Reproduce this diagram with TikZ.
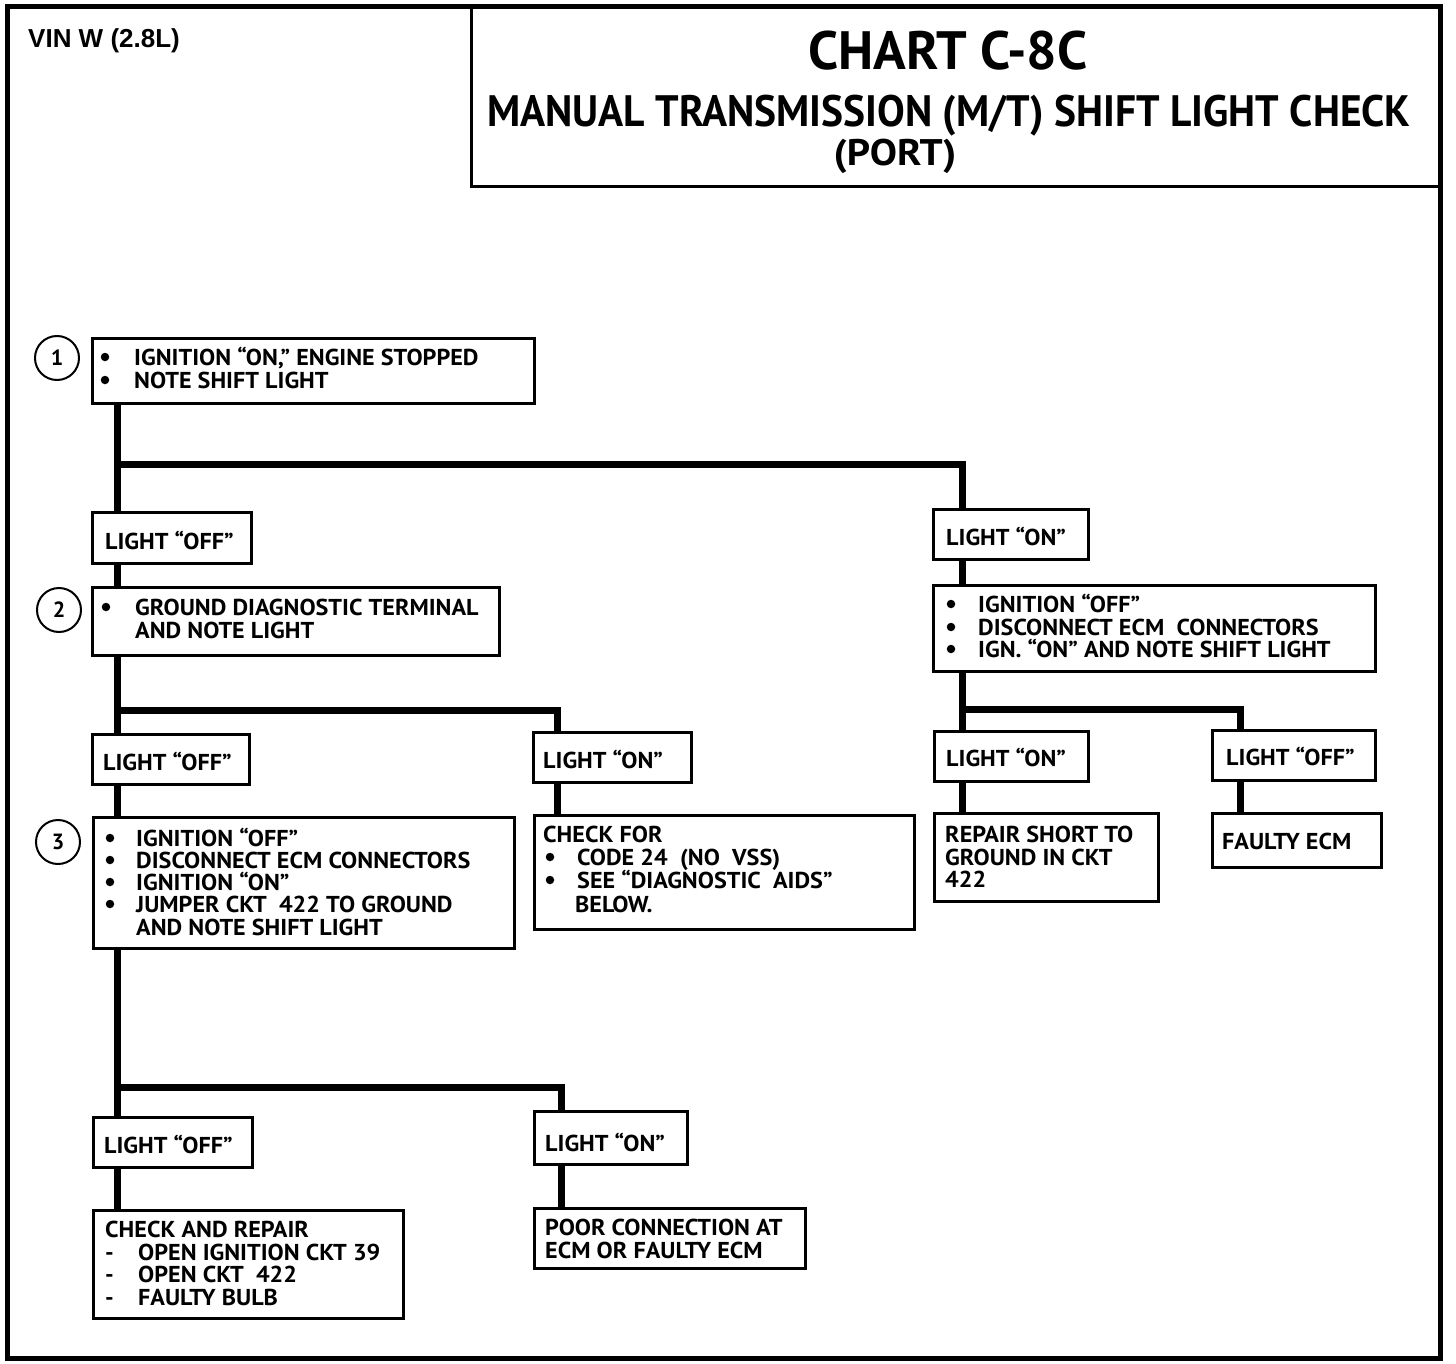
\documentclass[tikz,border=0pt]{standalone}
\usepackage{fontspec}
\setmainfont{PT Sans}
\newfontfamily\boxf{PT Sans}[FakeStretch=1.05]
\newfontfamily\arialf{Liberation Sans}
\begin{document}
\begin{tikzpicture}[x=1pt,y=-1pt,
  bx/.style={draw, line width=2.5pt, fill=white, anchor=north west, inner sep=0pt},
  conn/.style={line width=7pt},
  txt/.style={anchor=base west, inner sep=0pt, font=\boxf\fontsize{23}{24}\selectfont\bfseries},
  dot/.style={circle, fill, minimum size=8.5pt, inner sep=0pt},
  circ/.style={draw, circle, line width=2pt, minimum size=44pt, inner sep=0pt, font=\fontsize{22}{24}\selectfont\bfseries}]
\useasboundingbox (0,0) rectangle (1456,1364);
% frame and title
\draw[line width=5pt] (7,7) rectangle (1440,1358);
\node[draw, line width=3pt, anchor=north west, minimum width=970, minimum height=179, inner sep=0pt] (title) at (470,6) {};
\node[anchor=base west, inner sep=0pt, font=\arialf\fontsize{26}{28}\selectfont\bfseries] (vin) at (28,48) {VIN W (2.8L)};
\node[anchor=base, inner sep=0pt, font=\fontsize{54}{60}\selectfont\bfseries] (t1) at (948,70) {CHART C-8C};
\node[anchor=base west, inner sep=0pt, font=\fontsize{44}{50}\selectfont\bfseries] (t2) at (487,127) {\scalebox{0.942}[1]{MANUAL TRANSMISSION (M/T) SHIFT LIGHT CHECK}};
\node[anchor=base, inner sep=0pt, font=\fontsize{37}{42}\selectfont\bfseries] (t3) at (895,166) {\scalebox{1.1}[1]{(PORT)}};

% boxes
\newcommand{\mkbox}[5]{\node[bx, minimum width=#4-#2, minimum height=#5-#3] (#1) at (#2,#3) {};}
\mkbox{b1}{91}{337}{533}{402}
\mkbox{off1}{91}{511}{250}{562}
\mkbox{b2}{91}{586}{498}{654}
\mkbox{off2}{91}{733}{248}{783}
\mkbox{on2}{532}{731}{690}{781}
\mkbox{b3}{92}{816}{513}{947}
\mkbox{chk}{533}{814}{913}{928}
\mkbox{on1}{932}{508}{1087}{558}
\mkbox{r1}{932}{584}{1374}{670}
\mkbox{on3}{933}{730}{1087}{780}
\mkbox{off3}{1211}{729}{1374}{779}
\mkbox{rep}{933}{812}{1157}{900}
\mkbox{fe}{1211}{812}{1380}{866}
\mkbox{off4}{92}{1116}{251}{1166}
\mkbox{on4}{533}{1110}{686}{1163}
\mkbox{car}{92}{1209}{402}{1317}
\mkbox{poor}{533}{1207}{804}{1267}

% circles
\node[circ] (c1) at (57,358) {1};
\node[circ] (c2) at (59,610) {2};
\node[circ] (c3) at (58,842) {3};

% junction coordinates
\coordinate (j1) at (117,464);
\coordinate (j2) at (117,710);
\coordinate (j3) at (117,1087);
\coordinate (j4) at (962,709);

% connectors
\draw[conn] ([xshift=26]b1.south west) -- ([xshift=26]b1.south west |- off1.north);
\draw[conn] (j1) -| ([xshift=30]on1.north west);
\draw[conn] ([xshift=26]off1.south west) -- ([xshift=26]off1.south west |- b2.north);
\draw[conn] ([xshift=26]b2.south west) -- ([xshift=26]b2.south west |- off2.north);
\draw[conn] (j2) -| ([xshift=25]on2.north west);
\draw[conn] ([xshift=26]off2.south west) -- ([xshift=26]off2.south west |- b3.north);
\draw[conn] ([xshift=25]on2.south west) -- ([xshift=25]on2.south west |- chk.north);
\draw[conn] ([xshift=25]b3.south west) -- ([xshift=25]b3.south west |- off4.north);
\draw[conn] (j3) -| ([xshift=28]on4.north west);
\draw[conn] ([xshift=25]off4.south west) -- ([xshift=25]off4.south west |- car.north);
\draw[conn] ([xshift=28]on4.south west) -- ([xshift=28]on4.south west |- poor.north);
\draw[conn] ([xshift=30]on1.south west) -- ([xshift=30]on1.south west |- r1.north);
\draw[conn] ([xshift=30]r1.south west) -- ([xshift=30]r1.south west |- on3.north);
\draw[conn] (j4) -| ([xshift=29]off3.north west);
\draw[conn] ([xshift=29]on3.south west) -- ([xshift=29]on3.south west |- rep.north);
\draw[conn] ([xshift=29]off3.south west) -- ([xshift=29]off3.south west |- fe.north);

% texts
\node[dot] (b1a) at (105,357) {};
\node[txt] (b1b) at (134,365) {IGNITION “ON,” ENGINE STOPPED};
\node[dot] (b1c) at (105,380) {};
\node[txt] (b1d) at (134,388) {NOTE SHIFT LIGHT};

\node[txt] (off1t) at (105,549) {LIGHT “OFF”};

\node[dot] (b2a) at (106,607) {};
\node[txt] (b2b) at (135,615) {GROUND DIAGNOSTIC TERMINAL};
\node[txt] (b2c) at (135,638) {AND NOTE LIGHT};

\node[txt] (off2t) at (103,770) {LIGHT “OFF”};
\node[txt] (on2t) at (543,768) {LIGHT “ON”};

\node[dot] (b3a) at (110,838) {};
\node[txt] (b3b) at (136,846) {IGNITION “OFF”};
\node[dot] (b3c) at (110,860) {};
\node[txt] (b3d) at (136,868) {DISCONNECT ECM CONNECTORS};
\node[dot] (b3e) at (110,882) {};
\node[txt] (b3f) at (136,890) {IGNITION “ON”};
\node[dot] (b3g) at (110,904) {};
\node[txt] (b3h) at (136,912) {JUMPER CKT\ \ 422 TO GROUND};
\node[txt] (b3i) at (136,935) {AND NOTE SHIFT LIGHT};

\node[txt] (chka) at (543,842) {CHECK FOR};
\node[dot] (chkb) at (550,857) {};
\node[txt] (chkc) at (577,865) {CODE 24\ \ (NO\ \ VSS)};
\node[dot] (chkd) at (550,880) {};
\node[txt] (chke) at (577,888) {SEE “DIAGNOSTIC\ \ AIDS”};
\node[txt] (chkf) at (575,912) {BELOW.};

\node[txt] (on1t) at (946,545) {LIGHT “ON”};
\node[dot] (r1a) at (951,604) {};
\node[txt] (r1b) at (978,612) {IGNITION “OFF”};
\node[dot] (r1c) at (951,627) {};
\node[txt] (r1d) at (978,635) {DISCONNECT ECM\ \ CONNECTORS};
\node[dot] (r1e) at (951,649) {};
\node[txt] (r1f) at (978,657) {IGN. “ON” AND NOTE SHIFT LIGHT};

\node[txt] (on3t) at (946,766) {LIGHT “ON”};
\node[txt] (off3t) at (1226,765) {LIGHT “OFF”};
\node[txt] (repa) at (945,842) {REPAIR SHORT TO};
\node[txt] (repb) at (945,865) {GROUND IN CKT};
\node[txt] (repc) at (945,887) {422};
\node[txt] (fet) at (1222,849) {FAULTY ECM};

\node[txt] (off4t) at (104,1153) {LIGHT “OFF”};
\node[txt] (on4t) at (545,1151) {LIGHT “ON”};
\node[txt] (cara) at (105,1237) {CHECK AND REPAIR};
\node[txt] (carb) at (105,1260) {-};
\node[txt] (carc) at (138,1260) {OPEN IGNITION CKT 39};
\node[txt] (card) at (105,1282) {-};
\node[txt] (care) at (138,1282) {OPEN CKT\ \ 422};
\node[txt] (carf) at (105,1305) {-};
\node[txt] (carg) at (138,1305) {FAULTY BULB};
\node[txt] (poora) at (545,1235) {POOR CONNECTION AT};
\node[txt] (poorb) at (545,1258) {ECM OR FAULTY ECM};
\end{tikzpicture}
\end{document}
